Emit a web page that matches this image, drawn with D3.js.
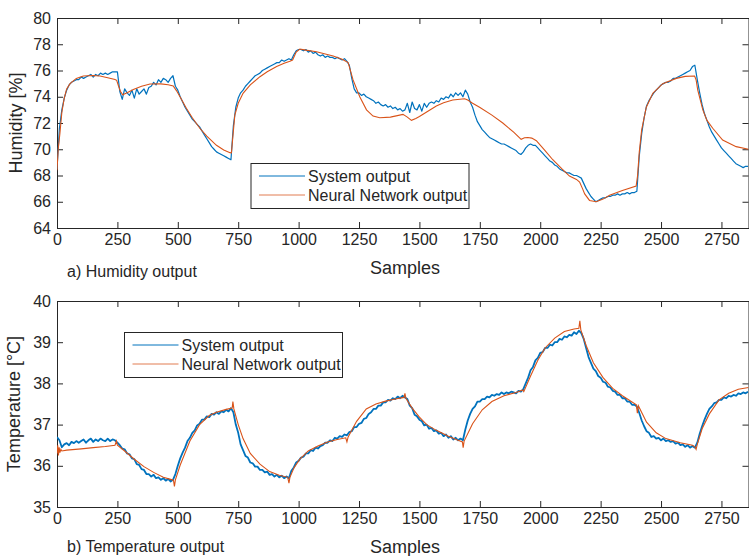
<!DOCTYPE html>
<html>
<head>
<meta charset="utf-8">
<script src="https://cdn.jsdelivr.net/npm/d3@7"></script>
<style>
  body { margin: 0; background: #fff; }
  svg { display: block; font-family: "Liberation Sans", Arial, sans-serif; }
  .axis text { font-size: 16px; fill: #262626; }
  .axis line, .axis path { stroke: #262626; }
</style>
</head>
<body>
<svg id="chart" width="749" height="556"></svg>
<script>
// sample step of the measured (blue) series
const sampleStep = 10;
const xTicks = [0, 250, 500, 750, 1000, 1250, 1500, 1750, 2000, 2250, 2500, 2750];
const humTicks = [64, 66, 68, 70, 72, 74, 76, 78, 80];
const tempTicks = [35, 36, 37, 38, 39, 40];
const legendNames = ["System output", "Neural Network output"];

// a) humidity, system output, one value every 10 samples
const humSystem = [
  68.5, 71.6, 73.0, 73.9, 74.5, 74.9, 75.1, 75.2, 75.3, 75.3,
  75.5, 75.4, 75.5, 75.6, 75.7, 75.5, 75.7, 75.6, 75.8, 75.7,
  75.8, 75.7, 75.8, 75.9, 75.9, 75.9, 74.4, 73.8, 74.6, 74.3,
  74.1, 74.5, 73.9, 74.6, 74.2, 74.4, 74.6, 74.2, 74.7, 74.8,
  75.1, 74.9, 75.3, 75.1, 75.4, 75.3, 75.1, 75.4, 75.6, 74.8,
  74.5, 74.0, 73.6, 73.2, 72.9, 72.6, 72.3, 72.1, 71.9, 71.7,
  71.4, 71.1, 70.8, 70.5, 70.2, 70.0, 69.8, 69.7, 69.6, 69.5,
  69.4, 69.3, 69.2, 71.8, 73.2, 73.9, 74.3, 74.5, 74.8, 75.0,
  75.2, 75.4, 75.6, 75.7, 75.8, 76.0, 76.1, 76.2, 76.3, 76.4,
  76.5, 76.6, 76.6, 76.8, 76.7, 76.8, 76.9, 76.8, 77.2, 77.5,
  77.6, 77.6, 77.5, 77.6, 77.4, 77.5, 77.3, 77.4, 77.2, 77.1,
  77.2, 77.0, 77.1, 77.0, 77.0, 76.9, 77.0, 76.9, 76.8, 76.9,
  76.7, 76.4, 75.4, 74.6, 74.3, 74.3, 74.1, 74.2, 74.0, 73.9,
  73.8, 73.7, 73.5, 73.6, 73.4, 73.3, 73.4, 73.2, 73.3, 73.1,
  73.2, 73.0, 73.1, 72.9, 73.0, 73.5, 72.8, 73.6, 73.1, 73.0,
  73.4, 72.9, 73.5, 73.2, 73.5, 73.6, 73.5, 73.7, 73.6, 73.9,
  73.8, 74.0, 73.9, 74.2, 74.0, 74.3, 74.1, 74.3, 74.0, 74.5,
  74.2, 73.6, 73.2, 72.6, 72.1, 71.8, 71.5, 71.3, 71.1, 70.9,
  70.8, 70.7, 70.6, 70.5, 70.4, 70.4, 70.3, 70.2, 70.1, 70.0,
  69.9, 69.7, 69.6, 69.8, 70.1, 70.3, 70.4, 70.3, 70.3, 70.1,
  69.9, 69.7, 69.5, 69.3, 69.1, 69.0, 68.8, 68.7, 68.5, 68.4,
  68.3, 68.2, 68.2, 68.1, 68.0, 68.0, 67.9, 67.8, 67.4, 67.0,
  66.7, 66.4, 66.2, 66.0, 66.1, 66.2, 66.3, 66.3, 66.4, 66.4,
  66.5, 66.5, 66.6, 66.5, 66.6, 66.6, 66.7, 66.6, 66.7, 66.7,
  66.8, 69.5, 71.2, 72.4, 73.3, 73.7, 74.0, 74.3, 74.5, 74.7,
  74.9, 75.0, 75.1, 75.1, 75.2, 75.4, 75.4, 75.5, 75.6, 75.7,
  75.8, 75.9, 76.0, 76.3, 76.4, 75.3, 74.3, 73.4, 72.7, 72.2,
  71.7, 71.3, 71.0, 70.7, 70.4, 70.1, 69.9, 69.7, 69.5, 69.3,
  69.1, 68.9, 68.8, 68.7, 68.6, 68.7, 68.7
];

// a) humidity, neural network output: [sample, value]
const humNetwork = [
  [0, 68.4], [5, 70.0], [12, 71.2], [20, 72.8], [30, 73.9], [40, 74.6], [54, 75.0],
  [80, 75.4], [109, 75.58], [150, 75.62], [178, 75.58], [210, 75.45], [240, 75.32],
  [247, 75.25], [255, 74.8], [263, 74.4], [272, 74.15], [290, 74.3], [316, 74.56],
  [350, 74.8], [385, 74.97], [430, 74.98], [460, 74.92], [481, 74.82], [495, 74.45],
  [509, 74.0], [536, 73.1], [560, 72.4], [591, 71.6], [620, 71.0], [660, 70.3],
  [690, 69.95], [716, 69.74], [722, 69.72], [728, 71.0], [736, 72.6], [750, 73.5],
  [770, 74.26], [800, 74.9], [840, 75.53], [870, 75.9], [909, 76.3], [940, 76.55],
  [964, 76.7], [975, 76.8], [990, 77.4], [1005, 77.64], [1030, 77.55], [1074, 77.43],
  [1143, 77.1], [1180, 76.85], [1205, 76.6], [1225, 75.3], [1253, 74.0], [1281, 73.0],
  [1308, 72.53], [1336, 72.4], [1380, 72.45], [1432, 72.66], [1450, 72.45], [1467, 72.2],
  [1485, 72.35], [1500, 72.5], [1535, 72.9], [1570, 73.3], [1600, 73.55], [1638, 73.75],
  [1687, 73.85], [1700, 73.75], [1720, 73.5], [1749, 73.2], [1800, 72.6], [1845, 72.0],
  [1890, 71.3], [1921, 70.76], [1935, 70.88], [1949, 70.9], [1965, 70.85], [1984, 70.65],
  [2020, 69.9], [2052, 69.2], [2090, 68.5], [2121, 67.96], [2150, 67.7], [2163, 67.5],
  [2175, 67.0], [2184, 66.6], [2204, 66.1], [2232, 66.0], [2260, 66.2], [2287, 66.5],
  [2340, 66.85], [2397, 67.2], [2403, 68.0], [2410, 69.8], [2420, 71.5], [2439, 73.2],
  [2466, 74.26], [2507, 75.0], [2563, 75.4], [2600, 75.55], [2639, 75.58], [2645, 75.3],
  [2652, 74.5], [2673, 73.0], [2690, 72.2], [2714, 71.6], [2755, 70.7], [2811, 70.2],
  [2862, 70.0]
];

// b) temperature, system output, one value every 10 samples
const tempSystem = [
  36.70, 36.62, 36.45, 36.52, 36.55, 36.50, 36.58, 36.55, 36.60, 36.56,
  36.60, 36.64, 36.56, 36.62, 36.66, 36.58, 36.64, 36.60, 36.66, 36.62,
  36.60, 36.66, 36.60, 36.64, 36.62, 36.56, 36.50, 36.42, 36.40, 36.30,
  36.28, 36.18, 36.16, 36.04, 36.02, 35.92, 35.90, 35.80, 35.80, 35.74,
  35.78, 35.70, 35.72, 35.66, 35.70, 35.64, 35.68, 35.62, 35.66, 35.80,
  36.00, 36.18, 36.32, 36.44, 36.60, 36.68, 36.80, 36.86, 36.98, 37.02,
  37.12, 37.12, 37.20, 37.18, 37.26, 37.24, 37.30, 37.26, 37.32, 37.30,
  37.36, 37.32, 37.40, 37.30, 37.00, 36.80, 36.52, 36.38, 36.24, 36.20,
  36.08, 36.06, 35.98, 35.98, 35.90, 35.90, 35.84, 35.86, 35.78, 35.80,
  35.74, 35.78, 35.72, 35.76, 35.70, 35.74, 35.70, 35.88, 35.96, 36.08,
  36.12, 36.20, 36.22, 36.30, 36.30, 36.38, 36.36, 36.44, 36.42, 36.48,
  36.50, 36.56, 36.56, 36.62, 36.60, 36.68, 36.66, 36.72, 36.70, 36.76,
  36.74, 36.82, 36.84, 36.94, 36.94, 37.02, 37.04, 37.14, 37.16, 37.26,
  37.30, 37.38, 37.38, 37.46, 37.46, 37.54, 37.54, 37.60, 37.58, 37.64,
  37.62, 37.68, 37.64, 37.70, 37.66, 37.62, 37.46, 37.40, 37.24, 37.20,
  37.12, 37.08, 36.98, 37.00, 36.90, 36.92, 36.84, 36.86, 36.78, 36.80,
  36.72, 36.76, 36.68, 36.72, 36.64, 36.68, 36.62, 36.66, 36.62, 36.88,
  37.10, 37.26, 37.38, 37.44, 37.56, 37.56, 37.62, 37.62, 37.68, 37.66,
  37.72, 37.70, 37.74, 37.72, 37.78, 37.74, 37.78, 37.76, 37.80, 37.78,
  37.76, 37.82, 37.80, 37.86, 38.00, 38.14, 38.32, 38.40, 38.56, 38.62,
  38.74, 38.76, 38.86, 38.86, 38.94, 38.92, 39.00, 39.00, 39.08, 39.06,
  39.14, 39.12, 39.18, 39.16, 39.24, 39.20, 39.28, 39.22, 39.08, 38.86,
  38.64, 38.50, 38.36, 38.30, 38.18, 38.14, 38.04, 38.02, 37.92, 37.90,
  37.82, 37.80, 37.72, 37.72, 37.64, 37.64, 37.56, 37.56, 37.48, 37.48,
  37.44, 37.28, 37.10, 36.96, 36.84, 36.80, 36.70, 36.72, 36.66, 36.68,
  36.62, 36.66, 36.60, 36.62, 36.58, 36.60, 36.54, 36.56, 36.50, 36.52,
  36.46, 36.50, 36.44, 36.48, 36.44, 36.56, 36.78, 36.96, 37.12, 37.26,
  37.38, 37.44, 37.52, 37.54, 37.60, 37.60, 37.66, 37.64, 37.70, 37.68,
  37.72, 37.70, 37.76, 37.74, 37.78, 37.76, 37.80
];

// b) temperature, neural network output: [sample, value]
const tempNetwork = [
  [0, 36.30], [3, 36.50], [6, 36.25], [9, 36.45], [12, 36.32], [16, 36.40], [20, 36.36],
  [40, 36.38], [100, 36.41], [150, 36.44], [200, 36.47], [240, 36.50], [246, 36.60],
  [250, 36.50], [280, 36.36], [320, 36.16], [360, 35.98], [400, 35.84], [440, 35.72],
  [470, 35.67], [482, 35.65], [486, 35.50], [490, 35.66], [510, 36.02], [550, 36.60],
  [590, 37.00], [630, 37.22], [660, 37.30], [700, 37.37], [725, 37.40], [728, 37.56],
  [732, 37.38], [750, 37.00], [770, 36.66], [800, 36.30], [840, 36.04], [880, 35.86],
  [920, 35.77], [955, 35.72], [960, 35.58], [964, 35.72], [980, 35.94], [1005, 36.16],
  [1040, 36.36], [1080, 36.48], [1120, 36.58], [1160, 36.64], [1195, 36.68], [1200, 36.58],
  [1205, 36.70], [1240, 37.08], [1280, 37.38], [1320, 37.50], [1360, 37.57], [1400, 37.62],
  [1436, 37.66], [1440, 37.76], [1444, 37.64], [1470, 37.40], [1500, 37.18], [1530, 37.00],
  [1570, 36.86], [1620, 36.72], [1660, 36.62], [1678, 36.58], [1681, 36.44], [1685, 36.60],
  [1720, 37.02], [1760, 37.36], [1800, 37.56], [1850, 37.70], [1900, 37.78], [1928, 37.84],
  [1932, 37.80], [1960, 38.18], [1990, 38.56], [2020, 38.86], [2060, 39.10], [2100, 39.26],
  [2140, 39.32], [2160, 39.34], [2164, 39.52], [2168, 39.30], [2190, 38.92], [2220, 38.50],
  [2260, 38.14], [2300, 37.88], [2340, 37.70], [2380, 37.55], [2398, 37.48], [2402, 37.28],
  [2406, 37.46], [2440, 37.06], [2480, 36.80], [2520, 36.66], [2580, 36.56], [2630, 36.50],
  [2640, 36.46], [2645, 36.40], [2650, 36.52], [2670, 36.90], [2700, 37.26], [2740, 37.60],
  [2780, 37.76], [2820, 37.86], [2862, 37.90]
];

const blue = "#0072BD", red = "#D95319", ink = "#262626";
const svg = d3.select("#chart");
const left = 57, right = 748.5;
const x = d3.scaleLinear().domain([0, 2862]).range([left, right]);
const fmt = d3.format("d");

function drawPanel(id, top, bottom, yDomain, yTicks, system, network, opts) {
  const y = d3.scaleLinear().domain(yDomain).range([bottom, top]);
  const g = svg.append("g");

  g.append("clipPath").attr("id", "clip-" + id)
    .append("rect").attr("x", left).attr("y", top)
    .attr("width", right - left).attr("height", bottom - top);

  g.append("g").attr("class", "axis").attr("transform", `translate(0,${bottom})`)
    .call(d3.axisBottom(x).tickValues(xTicks).tickFormat(fmt).tickSizeInner(-6).tickSizeOuter(0).tickPadding(6));
  g.append("g").attr("class", "axis").attr("transform", `translate(0,${top})`)
    .call(d3.axisTop(x).tickValues(xTicks).tickSizeInner(-6).tickSizeOuter(0).tickFormat(""));
  g.append("g").attr("class", "axis").attr("transform", `translate(${left},0)`)
    .call(d3.axisLeft(y).tickValues(yTicks).tickFormat(fmt).tickSizeInner(-6).tickSizeOuter(0).tickPadding(6));
  g.append("g").attr("class", "axis").attr("transform", `translate(${right},0)`)
    .call(d3.axisRight(y).tickValues(yTicks).tickSizeInner(-6).tickSizeOuter(0).tickFormat(""));

  const lines = g.append("g").attr("clip-path", `url(#clip-${id})`);
  lines.append("path").datum(system)
    .attr("fill", "none").attr("stroke", blue).attr("stroke-width", opts.blueWidth)
    .attr("stroke-linejoin", "round")
    .attr("d", d3.line().x((d, i) => x(i * sampleStep)).y(d => y(d)));
  lines.append("path").datum(network)
    .attr("fill", "none").attr("stroke", red).attr("stroke-width", 1.1)
    .attr("d", d3.line().x(d => x(d[0])).y(d => y(d[1])));

  // legend
  const lg = g.append("g").attr("transform", `translate(${opts.legend[0]},${opts.legend[1]})`);
  lg.append("rect").attr("width", 218).attr("height", 45)
    .attr("fill", "#fff").attr("stroke", ink).attr("stroke-width", 1);
  legendNames.forEach((name, i) => {
    const ly = 12.5 + i * 19;
    lg.append("line").attr("x1", 8).attr("x2", 54).attr("y1", ly).attr("y2", ly)
      .attr("stroke", i === 0 ? blue : red).attr("stroke-width", 1).attr("opacity", i === 0 ? 1 : 0.75);
    lg.append("text").attr("x", 57).attr("y", ly).attr("dy", "0.35em")
      .attr("font-size", 16).attr("fill", ink).text(name);
  });

  // axis labels and caption
  svg.append("text").attr("transform", `translate(${opts.yLabelX},${(top + bottom) / 2}) rotate(-90)`)
    .attr("text-anchor", "middle").attr("font-size", 18).attr("fill", ink).text(opts.yLabel);
  svg.append("text").attr("x", 405).attr("y", bottom + 46)
    .attr("text-anchor", "middle").attr("font-size", 18).attr("fill", ink).text("Samples");
  svg.append("text").attr("x", 67).attr("y", bottom + opts.captionDy)
    .attr("font-size", 16).attr("fill", ink).text(opts.caption);
}

drawPanel("hum", 18, 228, [64, 80], humTicks, humSystem, humNetwork,
  { blueWidth: 1.2, legend: [251, 163.5], yLabel: "Humidity [%]", yLabelX: 22,
    caption: "a) Humidity output", captionDy: 49 });
drawPanel("temp", 301, 507, [35, 40], tempTicks, tempSystem, tempNetwork,
  { blueWidth: 1.8, legend: [124.5, 332.5], yLabel: "Temperature [°C]", yLabelX: 20,
    caption: "b) Temperature output", captionDy: 45 });
</script>
</body>
</html>
